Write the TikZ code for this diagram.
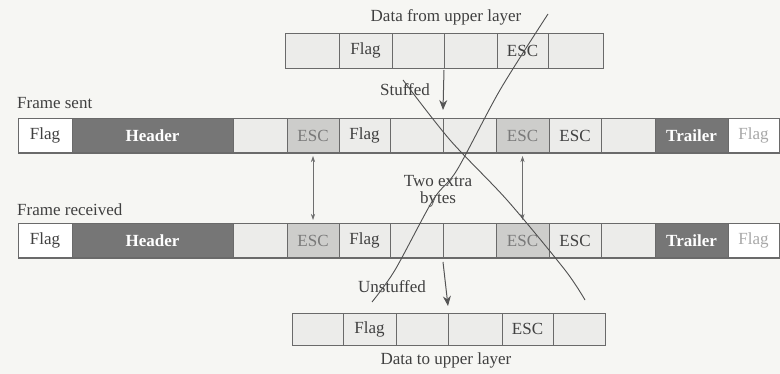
\documentclass[tikz,border=0pt]{standalone}
\usepackage{fontspec}
\setmainfont{Liberation Serif}
\usetikzlibrary{arrows.meta}
\definecolor{bg}{HTML}{F6F6F3}
\definecolor{bordc}{HTML}{6A6A6A}
\definecolor{lightc}{HTML}{ECECEA}
\definecolor{midc}{HTML}{CDCDCB}
\definecolor{darkc}{HTML}{767676}
\definecolor{txtc}{HTML}{404040}
\definecolor{fadec}{HTML}{A8A8A8}
\definecolor{penc}{HTML}{505050}
\definecolor{arrc}{HTML}{555555}
\tikzset{
  cell/.style={draw=bordc, line width=0.7pt, fill=lightc, minimum height=35pt,
    inner sep=0pt, outer sep=0pt, anchor=north west, text=txtc,
    font=\fontsize{17}{17}\selectfont},
  fw/.style={fill=white},
  fl/.style={fill=lightc},
  fm/.style={fill=midc, text=txtc!70},
  fd/.style={fill=darkc, text=white, font=\fontsize{17}{17}\selectfont\bfseries},
  ff/.style={fill=white, text=fadec},
  lbl/.style={text=txtc, inner sep=1pt, font=\fontsize{17}{17}\selectfont},
  arr/.style={draw=arrc, line width=1pt, -{Stealth[length=10pt,width=8pt]}},
  darr/.style={draw=arrc!85, line width=0.6pt, {Stealth[length=6pt,width=4pt]}-{Stealth[length=6pt,width=4pt]}},
  pen/.style={draw=penc, line width=0.9pt}
}
\newcommand\frameRow[2]{%
  \foreach \i/\xa/\xb/\txt/\sty in {1/18/72/Flag/fw, 2/72/233/Header/fd, 3/233/287/{}/fl,
      4/287/339/ESC/fm, 5/339/390/Flag/fl, 6/390/443/{}/fl, 7/443/496/{}/fl,
      8/496/549/ESC/fm, 9/549/601/ESC/fl, 10/601/655/{}/fl, 11/655/728/Trailer/fd,
      12/728/779/Flag/ff}{%
    \node[cell,\sty, minimum width=\xb pt-\xa pt] (#1\i) at (\xa,#2) {\txt};
  }%
  \draw[bordc, line width=2pt] (#11.south west) -- (#112.south east);
}
\begin{document}
\begin{tikzpicture}[x=1pt,y=-1pt]
\useasboundingbox (0,0) rectangle (780,374);
\fill[bg] (0,0) rectangle (780,374);

% data from upper layer
\foreach \i/\xa/\xb/\txt in {1/285/339/{}, 2/339/392/Flag, 3/392/444/{}, 4/444/497/{}, 5/497/548/ESC, 6/548/603/{}}{%
  \node[cell, minimum height=35pt, minimum width=\xb pt-\xa pt] (u\i) at (\xa,33) {\txt};
}
\node[lbl] (utitle) at (446,17) {Data from upper layer};

% data to upper layer
\foreach \i/\xa/\xb/\txt in {1/292/343/{}, 2/343/396/Flag, 3/396/448/{}, 4/448/502/{}, 5/502/553/ESC, 6/553/605/{}}{%
  \node[cell, minimum height=32pt, minimum width=\xb pt-\xa pt] (d\i) at (\xa,313) {\txt};
}
\node[lbl] (dtitle) at (446,360) {Data to upper layer};

% frames
\frameRow{s}{118}
\frameRow{r}{223}
\node[lbl, anchor=west] (slabel) at (16,103) {Frame sent};
\node[lbl, anchor=west] (rlabel) at (16,210) {Frame received};

% stuffing arrows
\draw[arr] ([yshift=-2pt]u3.south east) -- ([yshift=8pt]s6.north east);
\node[lbl] (stuffed) at (405,90) {Stuffed};
\draw[arr] ([yshift=-4pt]r6.south east) -- ([yshift=7pt]d3.north east);
\node[lbl] (unstuffed) at (392,287) {Unstuffed};

% extra bytes
\draw[darr] ([yshift=-3pt]s4.south) -- ([yshift=3pt]r4.north);
\draw[darr] ([yshift=-3pt]s8.south) -- ([yshift=3pt]r8.north);
\node[lbl, align=center] (extra) at (438,191) {Two extra\\bytes};

% pen strokes
\draw[pen] plot[smooth] coordinates {(548,14) (500,90) (457,170) (433,200) (395,270) (372,302)};
\draw[pen] plot[smooth] coordinates {(403,80) (450,140) (507,200) (565,270) (585,300)};
\end{tikzpicture}
\end{document}
